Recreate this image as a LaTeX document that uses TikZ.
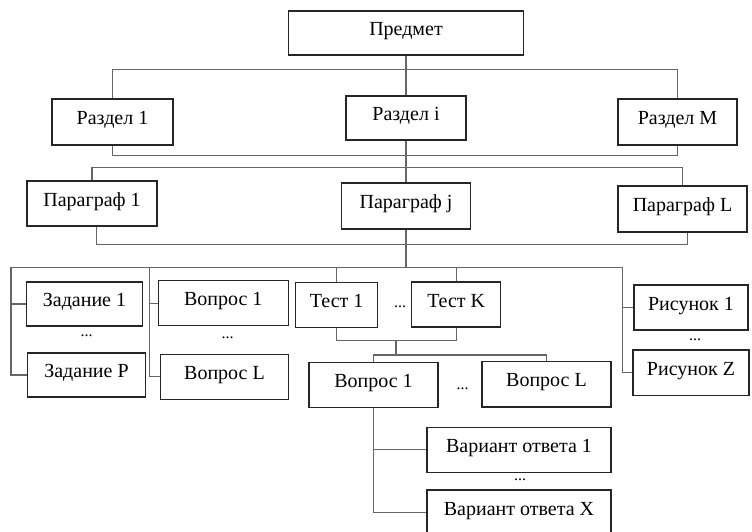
\documentclass[tikz,border=0pt]{standalone}
\usepackage{fontspec}
\setmainfont{Liberation Serif}
\begin{document}
\begin{tikzpicture}[x=1pt,y=-1pt,
  box/.style={draw=black!85, line width=1.1pt, fill=white, inner sep=0pt,
    text height=12pt, text depth=6.8pt, font=\fontsize{20}{24}\selectfont},
  conn/.style={draw=black!60, line width=1.2pt},
  dots/.style={inner sep=0pt, font=\fontsize{16}{18}\selectfont}]
\useasboundingbox (0,0) rectangle (752,531);
% boxes
\node[box, minimum width=235pt, minimum height=44pt] (pred) at (406,33) {Предмет};
\node[box, minimum width=121pt, minimum height=46pt] (r1) at (112.5,122) {Раздел 1};
\node[box, minimum width=120pt, minimum height=44pt] (ri) at (406,118) {Раздел i};
\node[box, minimum width=119pt, minimum height=46pt] (rm) at (677.5,122) {Раздел M};
\node[box, minimum width=130pt, minimum height=45pt] (p1) at (92,203.5) {Параграф 1};
\node[box, minimum width=129pt, minimum height=46pt] (pj) at (406,206) {Параграф j};
\node[box, minimum width=129pt, minimum height=46pt] (pl) at (682.5,209) {Параграф L};
\node[box, minimum width=116pt, minimum height=44pt] (z1) at (84.5,304) {Задание 1};
\node[box, minimum width=118pt, minimum height=44pt] (zp) at (86.5,375) {Задание P};
\node[box, minimum width=130pt, minimum height=45pt] (v1) at (223.3,303.3) {Вопрос 1};
\node[box, minimum width=128pt, minimum height=45pt] (vl) at (224.5,376.7) {Вопрос L};
\node[box, minimum width=82pt, minimum height=45pt] (t1) at (336.7,304.8) {Тест 1};
\node[box, minimum width=89pt, minimum height=45pt] (tk) at (456.2,304.5) {Тест K};
\node[box, minimum width=129pt, minimum height=44.5pt] (q1) at (373.5,385) {Вопрос 1};
\node[box, minimum width=129pt, minimum height=45.3pt] (ql) at (546.5,384.3) {Вопрос L};
\node[box, minimum width=114pt, minimum height=45pt] (ris1) at (691,307.5) {Рисунок 1};
\node[box, minimum width=116pt, minimum height=45.7pt] (risz) at (691,372.8) {Рисунок Z};
\node[box, minimum width=184pt, minimum height=45pt] (va1) at (519,449.8) {Вариант ответа 1};
\node[box, minimum width=184pt, minimum height=45pt] (vax) at (519,512.5) {Вариант ответа X};
% dots
\node[dots] (d1) at (86.7,336) {...};
\node[dots] (d2) at (227.7,338) {...};
\node[dots] (d3) at (400,307) {...};
\node[dots] (d4) at (462.7,389) {...};
\node[dots] (d5) at (695,340) {...};
\node[dots] (d6) at (520,479.5) {...};
% bus coordinates
\coordinate (bus1) at (406,69.5);
\coordinate (bus2) at (406,155.3);
\coordinate (bus3) at (406,167.7);
\coordinate (bus4) at (406,244.7);
\coordinate (bus5) at (406,267.3);
\coordinate (lv1) at (11,267.3);
\coordinate (lv2) at (149.3,267.3);
\coordinate (lv3) at (622.7,267.3);
\coordinate (tb) at (396,340.7);
\coordinate (qb) at (396,355);
% connectors
\draw[conn] (pred.south) -- (ri.north);
\draw[conn] (r1.north) -- (r1.north |- bus1) -- (rm.north |- bus1) -- (rm.north);
\draw[conn] (r1.south) -- (r1.south |- bus2) -- (rm.south |- bus2) -- (rm.south);
\draw[conn] (ri.south) -- (pj.north);
\draw[conn] (p1.north) -- (p1.north |- bus3) -- (pl.north |- bus3) -- (pl.north);
\draw[conn] ([xshift=4.7pt]p1.south) -- ([xshift=4.7pt]p1.south |- bus4) -- ([xshift=4.8pt]pl.south |- bus4) -- ([xshift=4.8pt]pl.south);
\draw[conn] (pj.south) -- (bus5);
\draw[conn] (lv1) -- (lv3);
\draw[conn] (lv1) |- (zp.west);
\draw[conn] (z1.west) -- (z1.west -| lv1);
\draw[conn] (lv2) |- (vl.west);
\draw[conn] (v1.west) -- (v1.west -| lv2);
\draw[conn] (t1.north |- lv1) -- (t1.north);
\draw[conn] (tk.north |- lv1) -- (tk.north);
\draw[conn] (lv3) |- (risz.west);
\draw[conn] (ris1.west) -- (ris1.west -| lv3);
\draw[conn] (t1.south) -- (t1.south |- tb) -- (tk.south |- tb) -- (tk.south);
\draw[conn] (tb) -- (qb);
\draw[conn] (q1.north) -- (q1.north |- qb) -- (ql.north |- qb) -- (ql.north);
\draw[conn] (q1.south) |- (vax.west);
\draw[conn] (va1.west) -- (va1.west -| q1.south);
\end{tikzpicture}
\end{document}
